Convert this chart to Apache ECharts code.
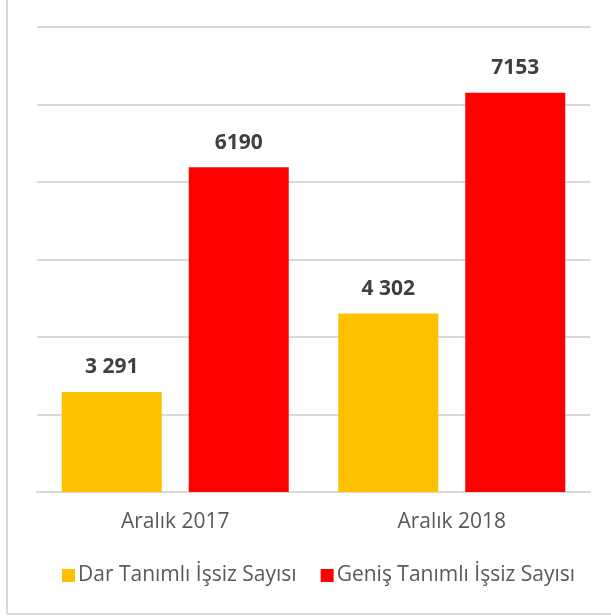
<!DOCTYPE html>
<html>
<head>
<meta charset="utf-8">
<style>
  html, body { margin: 0; padding: 0; background: #fff; }
  #chart { width: 611px; height: 616px; }
</style>
<script src="https://cdn.jsdelivr.net/npm/echarts@6/dist/echarts.min.js"></script>
</head>
<body>
<div id="chart"></div>
<script>
var categories = ['Aralık 2017', 'Aralık 2018'];
var seriesNames = ['Dar Tanımlı İşsiz Sayısı', 'Geniş Tanımlı İşsiz Sayısı'];
var darValues = [3291, 4302];
var genisValues = [6190, 7153];
// labels as shown in the picture (mixed separators)
var darLabels = ['3 291', '4 302'];
var genisLabels = ['6190', '7153'];

var myChart = echarts.init(document.getElementById('chart'));
var font = 'Open Sans';
var labelStyle = {
    show: true,
    position: 'top',
    distance: 14,
    fontFamily: font,
    fontWeight: 'bold',
    fontSize: 21,
    color: '#404040'
};

var option = {
    animation: false,
    grid: { left: 37, right: 21, top: 27, bottom: 124 },
    legend: {
        bottom: 25,
        left: 57,
        itemWidth: 13,
        itemHeight: 13,
        itemGap: 24,
        icon: 'rect',
        textStyle: { fontFamily: font, fontSize: 21, color: '#595959', padding: [0, 0, 0, -2] },
        data: seriesNames
    },
    xAxis: {
        type: 'category',
        data: categories,
        axisLine: { lineStyle: { color: '#d9d9d9', width: 2 } },
        axisTick: { show: false },
        axisLabel: { fontFamily: font, fontSize: 21, color: '#595959', margin: 20 }
    },
    yAxis: {
        type: 'value',
        min: 2000,
        max: 8000,
        interval: 1000,
        axisLabel: { show: false },
        axisLine: { show: false },
        axisTick: { show: false },
        splitLine: { lineStyle: { color: '#d9d9d9', width: 2 } }
    },
    series: [{
        name: seriesNames[0],
        type: 'bar',
        data: darValues,
        barWidth: 100,
        barGap: '27%',
        itemStyle: { color: '#ffc000' },
        label: Object.assign({}, labelStyle, {
            formatter: function (p) { return darLabels[p.dataIndex]; }
        })
    }, {
        name: seriesNames[1],
        type: 'bar',
        data: genisValues,
        barWidth: 100,
        itemStyle: { color: '#ff0000' },
        label: Object.assign({}, labelStyle, {
            formatter: function (p) { return genisLabels[p.dataIndex]; }
        })
    }],
    graphic: [{
        type: 'line',
        shape: { x1: 7, y1: 0, x2: 7, y2: 614 },
        style: { stroke: '#d9d9d9', lineWidth: 2 }
    }, {
        type: 'line',
        shape: { x1: 7, y1: 614, x2: 611, y2: 614 },
        style: { stroke: '#d9d9d9', lineWidth: 2 }
    }]
};
myChart.setOption(option);
</script>
</body>
</html>
